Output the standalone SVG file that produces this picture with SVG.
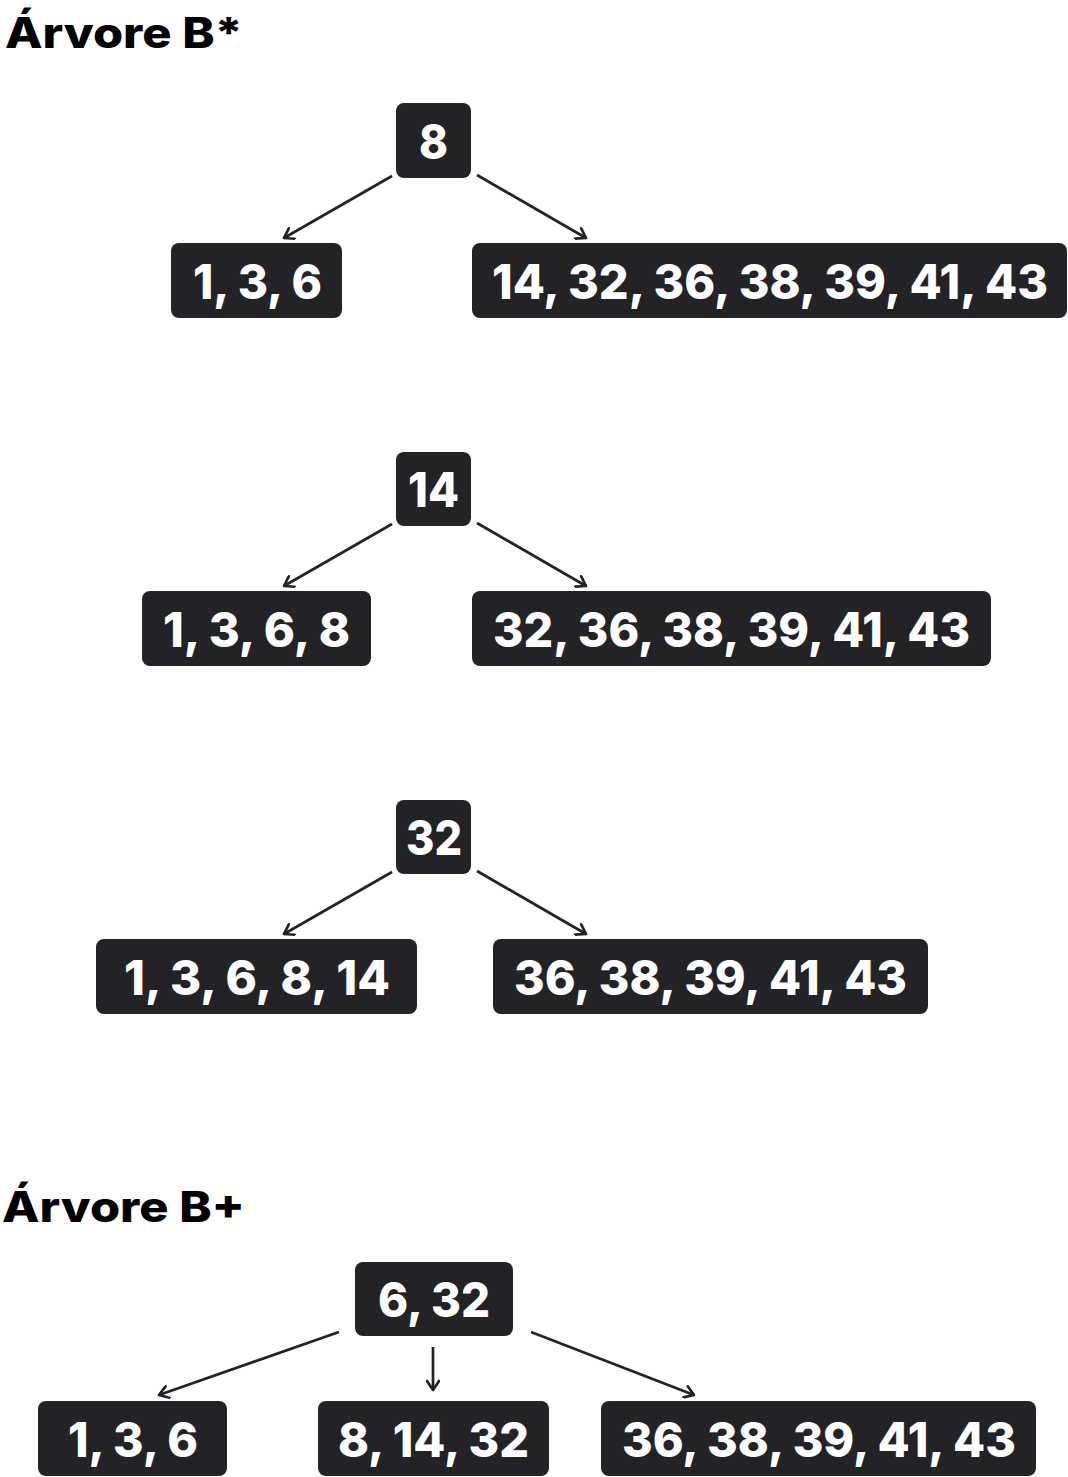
<svg xmlns="http://www.w3.org/2000/svg" width="1068" height="1477" viewBox="0 0 1068 1477">
<defs>
<style>
.box{fill:#232327}
.lbl{font-family:Inter,"Open Sans","Liberation Sans",sans-serif;font-weight:800;font-size:48px;fill:#ffffff;text-anchor:middle}
.title{font-family:Inter,"Open Sans","Liberation Sans",sans-serif;font-weight:800;font-size:42px;fill:#000000}
.edge{stroke:#232327;stroke-width:2.7;fill:none;marker-end:url(#arr)}
</style>
<marker id="arr" markerUnits="userSpaceOnUse" viewBox="0 0 14 14" refX="12" refY="7" markerWidth="14" markerHeight="14" orient="auto">
<path d="M3,1 L12,7 L3,13" fill="none" stroke="#232327" stroke-width="2.7" stroke-linecap="round" stroke-linejoin="round"/>
</marker>
</defs>
<rect width="1068" height="1477" fill="#ffffff"/>
<text class="title" x="5" y="48" textLength="238" lengthAdjust="spacingAndGlyphs">Árvore B*</text>
<text class="title" x="2" y="1222" textLength="243" lengthAdjust="spacingAndGlyphs">Árvore B+</text>

<g id="connectors">
<line class="edge" x1="392" y1="176" x2="284" y2="238"/>
<line class="edge" x1="477" y1="175" x2="586" y2="238"/>
<line class="edge" x1="392" y1="524" x2="284" y2="586"/>
<line class="edge" x1="477" y1="523" x2="586" y2="586"/>
<line class="edge" x1="392" y1="872" x2="284" y2="934"/>
<line class="edge" x1="477" y1="871" x2="586" y2="934"/>
<line class="edge" x1="339" y1="1332" x2="159" y2="1395"/>
<line class="edge" x1="433" y1="1347" x2="433" y2="1390"/>
<line class="edge" x1="531" y1="1332" x2="694" y2="1395"/>
</g>

<g id="t1-root"><rect class="box" x="396" y="103" width="75" height="75" rx="8"/><text class="lbl" x="433.5" y="159" textLength="29" lengthAdjust="spacingAndGlyphs">8</text></g>
<g id="t1-left"><rect class="box" x="171" y="243" width="171" height="75" rx="8"/><text class="lbl" x="257.5" y="299" textLength="129" lengthAdjust="spacingAndGlyphs">1, 3, 6</text></g>
<g id="t1-right"><rect class="box" x="472" y="243" width="595" height="75" rx="8"/><text class="lbl" x="770" y="299" textLength="556" lengthAdjust="spacingAndGlyphs">14, 32, 36, 38, 39, 41, 43</text></g>

<g id="t2-root"><rect class="box" x="396" y="452" width="75" height="74" rx="8"/><text class="lbl" x="433.5" y="507" textLength="51" lengthAdjust="spacingAndGlyphs">14</text></g>
<g id="t2-left"><rect class="box" x="142" y="591" width="229" height="75" rx="8"/><text class="lbl" x="256.5" y="647" textLength="187" lengthAdjust="spacingAndGlyphs">1, 3, 6, 8</text></g>
<g id="t2-right"><rect class="box" x="472" y="591" width="519" height="75" rx="8"/><text class="lbl" x="731.5" y="647" textLength="477" lengthAdjust="spacingAndGlyphs">32, 36, 38, 39, 41, 43</text></g>

<g id="t3-root"><rect class="box" x="396" y="800" width="75" height="74" rx="8"/><text class="lbl" x="434" y="855" textLength="56" lengthAdjust="spacingAndGlyphs">32</text></g>
<g id="t3-left"><rect class="box" x="96" y="939" width="321" height="75" rx="8"/><text class="lbl" x="257" y="995" textLength="266" lengthAdjust="spacingAndGlyphs">1, 3, 6, 8, 14</text></g>
<g id="t3-right"><rect class="box" x="493" y="939" width="435" height="75" rx="8"/><text class="lbl" x="710.5" y="995" textLength="393" lengthAdjust="spacingAndGlyphs">36, 38, 39, 41, 43</text></g>

<g id="bp-root"><rect class="box" x="355" y="1262" width="158" height="74" rx="8"/><text class="lbl" x="434" y="1317" textLength="112" lengthAdjust="spacingAndGlyphs">6, 32</text></g>
<g id="bp-left"><rect class="box" x="38" y="1401" width="189" height="75" rx="8"/><text class="lbl" x="133" y="1457" textLength="130" lengthAdjust="spacingAndGlyphs">1, 3, 6</text></g>
<g id="bp-mid"><rect class="box" x="318" y="1401" width="231" height="75" rx="8"/><text class="lbl" x="433.5" y="1457" textLength="191" lengthAdjust="spacingAndGlyphs">8, 14, 32</text></g>
<g id="bp-right"><rect class="box" x="601" y="1401" width="435" height="75" rx="8"/><text class="lbl" x="819" y="1457" textLength="394" lengthAdjust="spacingAndGlyphs">36, 38, 39, 41, 43</text></g>
</svg>
